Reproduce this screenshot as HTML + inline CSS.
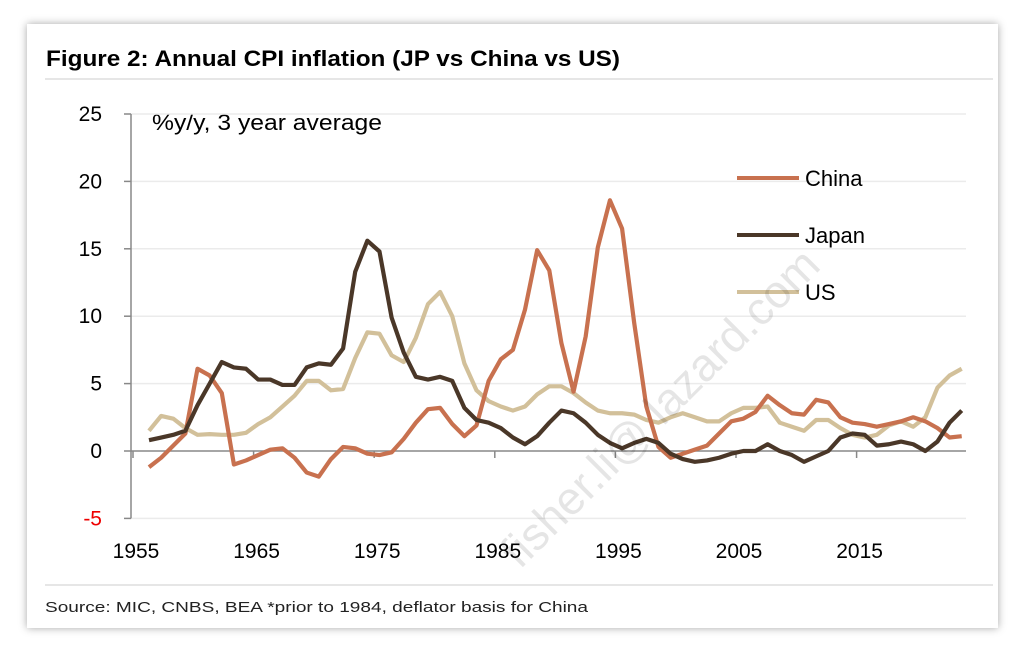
<!DOCTYPE html>
<html><head><meta charset="utf-8"><style>
body{margin:0;background:#fff;width:1024px;height:653px;overflow:hidden;font-family:"Liberation Sans","DejaVu Sans",sans-serif}
.card{position:absolute;left:27px;top:24px;width:971px;height:604px;background:#fff;box-shadow:0 0 8px rgba(0,0,0,0.35)}
</style></head><body>
<div class="card"></div>
<svg id="chart" width="1024" height="653" style="position:absolute;left:0;top:0">
<text x="46" y="66" font-size="22" font-weight="bold" fill="#000" textLength="574" lengthAdjust="spacingAndGlyphs">Figure 2: Annual CPI inflation (JP vs China vs US)</text>
<line x1="45" y1="79" x2="993" y2="79" stroke="#ccc" stroke-width="1"/>
<line x1="45" y1="585" x2="993" y2="585" stroke="#ccc" stroke-width="1"/>
<text x="45" y="612" font-size="15" fill="#222" textLength="543" lengthAdjust="spacingAndGlyphs">Source: MIC, CNBS, BEA *prior to 1984, deflator basis for China</text>
<text x="152" y="130" font-size="22" fill="#000" textLength="230" lengthAdjust="spacingAndGlyphs">%y/y, 3 year average</text>
<g id="grid"></g><g id="axes"></g><g id="series"></g><g id="legend"></g>
<text x="0" y="0" transform="translate(520,570) rotate(-45)" font-size="46" fill="#000" fill-opacity="0.1">fisher.li@ lazard.com</text>
</svg>
<script>
const years=[];for(let y=1956;y<=2023;y++)years.push(y);
const china=[-1.2,-0.5,0.4,1.3,6.1,5.6,4.3,-1.0,-0.7,-0.3,0.1,0.2,-0.5,-1.6,-1.9,-0.6,0.3,0.2,-0.2,-0.3,-0.1,0.9,2.1,3.1,3.2,2.0,1.1,1.9,5.2,6.8,7.5,10.5,14.9,13.4,8.0,4.4,8.5,15.1,18.6,16.5,9.5,3.3,0.3,-0.5,-0.2,0.1,0.4,1.3,2.2,2.4,2.9,4.1,3.4,2.8,2.7,3.8,3.6,2.5,2.1,2.0,1.8,2.0,2.2,2.5,2.2,1.7,1.0,1.1];
const japan=[0.8,1.0,1.2,1.5,3.4,5.0,6.6,6.2,6.1,5.3,5.3,4.9,4.9,6.2,6.5,6.4,7.6,13.3,15.6,14.8,9.9,7.3,5.5,5.3,5.5,5.2,3.2,2.3,2.1,1.7,1.0,0.5,1.1,2.1,3.0,2.8,2.1,1.2,0.6,0.2,0.6,0.9,0.6,-0.2,-0.6,-0.8,-0.7,-0.5,-0.2,0.0,0.0,0.5,0.0,-0.3,-0.8,-0.4,0.0,1.0,1.3,1.2,0.4,0.5,0.7,0.5,0.0,0.7,2.1,3.0];
const us=[1.5,2.6,2.4,1.7,1.2,1.25,1.2,1.2,1.35,2.0,2.5,3.3,4.1,5.2,5.2,4.5,4.6,6.9,8.8,8.7,7.1,6.6,8.4,10.9,11.8,10.0,6.5,4.5,3.7,3.3,3.0,3.3,4.2,4.8,4.8,4.3,3.6,3.0,2.8,2.8,2.7,2.3,2.1,2.5,2.8,2.5,2.2,2.2,2.8,3.2,3.2,3.3,2.1,1.8,1.5,2.3,2.3,1.7,1.2,1.0,1.2,1.9,2.2,1.8,2.5,4.7,5.6,6.1];
const yTicks=[-5,0,5,10,15,20,25];
const xTicks=[1955,1965,1975,1985,1995,2005,2015];
const seriesNames=["China","Japan","US"];
const colors=["#c8714f","#4a3728","#d2c09a"];
const NS="http://www.w3.org/2000/svg";
const X=y=>149+(y-1956)*12.13, Y=v=>451-v*13.48;
function mk(t,a,p){const e=document.createElementNS(NS,t);for(const k in a)e.setAttribute(k,a[k]);p.appendChild(e);return e;}
const grid=document.getElementById('grid'),axes=document.getElementById('axes'),ser=document.getElementById('series'),leg=document.getElementById('legend');
yTicks.forEach(v=>{
 if(v!==0){const l=mk('line',{x1:131,x2:966,y1:Y(v),y2:Y(v),stroke:'#ebebeb','stroke-width':1.5},grid);
 
 }
 const t=mk('text',{x:102,y:Y(v)+7,'font-size':21,'text-anchor':'end',fill:v<0?'#e00':'#000'},axes);t.textContent=v;
 
 
 const tk=mk('line',{x1:124,x2:131,y1:Y(v),y2:Y(v),stroke:'#888','stroke-width':1.5},axes);
 
 
});
const ya=mk('line',{x1:131,x2:131,y1:Y(25),y2:Y(-5),stroke:'#888','stroke-width':1.5},axes);


const xa=mk('line',{x1:131,x2:966,y1:Y(0),y2:Y(0),stroke:'#888','stroke-width':1.5},axes);


xTicks.forEach(yr=>{
 const x=133+(yr-1955)*12.06;
 const tk=mk('line',{x1:x,x2:x,y1:Y(0),y2:Y(0)+7,stroke:'#888','stroke-width':1.5},axes);
 
 
 const t=mk('text',{x:x+3,y:558,'font-size':21,'text-anchor':'middle',fill:'#000'},axes);t.textContent=yr;
 
 
});
[china,japan,us].forEach((d,i)=>{
 const p=mk('polyline',{points:d.map((v,j)=>X(years[j])+','+Y(v)).join(' '),fill:'none',stroke:colors[i],'stroke-width':4.2,'stroke-linejoin':'round'},ser);
 
 
});
[ser.children[2],ser.children[1],ser.children[0]].forEach(c=>ser.appendChild(c));
ser.appendChild(ser.children[1]);
seriesNames.forEach((n,i)=>{
 const y=178+i*57;
 const l=mk('line',{x1:737,x2:799,y1:y,y2:y,stroke:colors[i],'stroke-width':4},leg);
 
 
 const t=mk('text',{x:805,y:y+8,'font-size':22,fill:'#000'},leg);t.textContent=n;
 
 
});
</script>
</body></html>
